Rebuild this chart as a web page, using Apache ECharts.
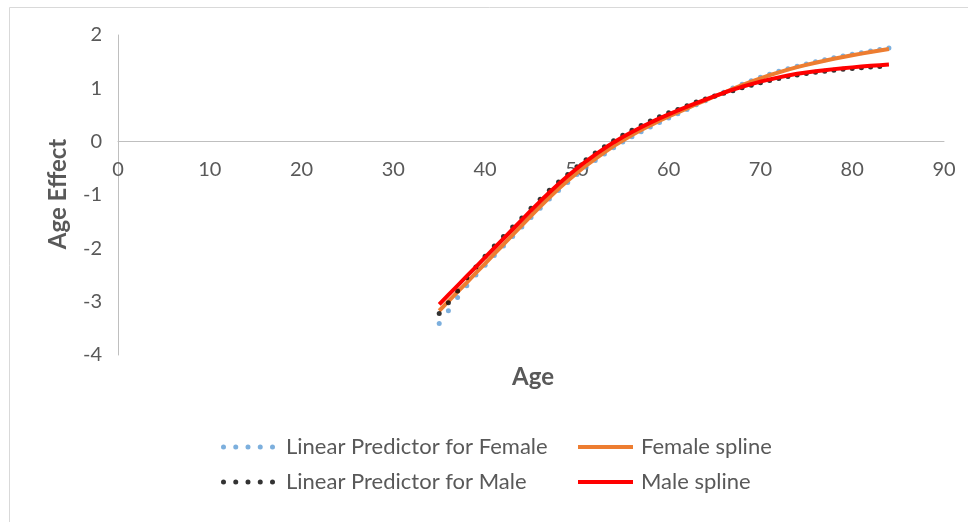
<!DOCTYPE html>
<html>
<head>
<meta charset="utf-8">
<script src="https://cdn.jsdelivr.net/npm/echarts@6/dist/echarts.min.js"></script>
<style>
html,body{margin:0;padding:0;background:#fff;}
#chart{width:968px;height:522px;}
</style>
</head>
<body>
<div id="chart"></div>
<script>
// ---- data ----
const splineAges = [35,36,37,38,39,40,41,42,43,44,45,46,47,48,49,50,51,52,53,54,55,56,57,58,59,60,61,62,63,64,65,66,67,68,69,70,71,72,73,74,75,76,77,78,79,80,81,82,83,84];
const femaleSpline = [-3.17,-2.994,-2.818,-2.642,-2.461,-2.285,-2.104,-1.928,-1.747,-1.571,-1.39,-1.218,-1.047,-0.884,-0.734,-0.587,-0.448,-0.322,-0.199,-0.084,0.023,0.123,0.217,0.306,0.391,0.472,0.550,0.625,0.702,0.775,0.847,0.917,0.990,1.060,1.126,1.188,1.246,1.300,1.350,1.397,1.440,1.480,1.518,1.554,1.588,1.620,1.651,1.681,1.710,1.738];
const maleSpline = [-3.05,-2.874,-2.698,-2.522,-2.346,-2.17,-1.994,-1.818,-1.642,-1.466,-1.29,-1.118,-0.952,-0.794,-0.644,-0.502,-0.368,-0.242,-0.124,-0.014,0.088,0.183,0.272,0.356,0.436,0.512,0.585,0.655,0.722,0.790,0.855,0.917,0.975,1.029,1.079,1.125,1.167,1.205,1.240,1.272,1.297,1.320,1.341,1.360,1.377,1.393,1.408,1.422,1.435,1.447];
const femaleLPAges = [35,36,37,38,39,40,41,42,43,44,45,46,47,48,49,50,51,52,53,54,55,56,57,58,59,60,61,62,63,64,65,66,67,68,69,70,71,72,73,74,75,76,77,78,79,80,81,82,83,84];
const femaleLP = [-3.41,-3.17,-2.92,-2.70,-2.50,-2.315,-2.134,-1.958,-1.777,-1.601,-1.42,-1.248,-1.077,-0.914,-0.764,-0.617,-0.478,-0.352,-0.229,-0.114,-0.007,0.093,0.187,0.276,0.361,0.442,0.525,0.605,0.692,0.765,0.847,0.925,1.005,1.077,1.144,1.206,1.264,1.318,1.368,1.415,1.458,1.498,1.536,1.572,1.606,1.638,1.669,1.699,1.728,1.756];
const maleLPAges = [35,36,37,38,39,40,41,42,43,44,45,46,47,48,49,50,51,52,53,54,55,56,57,58,59,60,61,62,63,64,65,66,67,68,69,70,71,72,73,74,75,76,77,78,79,80,81,82,83];
const maleLP = [-3.22,-3.02,-2.80,-2.55,-2.35,-2.15,-1.955,-1.78,-1.60,-1.43,-1.25,-1.08,-0.91,-0.755,-0.614,-0.472,-0.338,-0.212,-0.094,0.016,0.118,0.213,0.302,0.386,0.466,0.542,0.605,0.675,0.742,0.800,0.855,0.907,0.955,1.009,1.059,1.105,1.147,1.185,1.220,1.252,1.277,1.300,1.321,1.340,1.357,1.373,1.388,1.402,1.41];
const seriesNames = ['Linear Predictor for Female','Female spline','Linear Predictor for Male','Male spline'];
const xTitle = 'Age';
const yTitle = 'Age Effect';

function pairs(xs, ys){ return xs.map((x,i)=>[x, ys[i]]); }

const FONT = 'Lato';
const LABEL = '#595959';
const AXIS = '#BFBFBF';
const dotsIcon = 'path://M0,2.5a2.5,2.5 0 1,0 5,0a2.5,2.5 0 1,0 -5,0M12.25,2.5a2.5,2.5 0 1,0 5,0a2.5,2.5 0 1,0 -5,0M24.5,2.5a2.5,2.5 0 1,0 5,0a2.5,2.5 0 1,0 -5,0M36.75,2.5a2.5,2.5 0 1,0 5,0a2.5,2.5 0 1,0 -5,0M49,2.5a2.5,2.5 0 1,0 5,0a2.5,2.5 0 1,0 -5,0';

const legendText = {fontFamily: FONT, fontSize: 22, color: LABEL};
function mkLegend(name, left, top, icon, w, h, pad){
  return {
    data: [{name: name, icon: icon}],
    left: left, top: top, padding: 0,
    itemWidth: w, itemHeight: h,
    selectedMode: false,
    textStyle: Object.assign({padding: [0,0,0,pad]}, legendText)
  };
}

const chart = echarts.init(document.getElementById('chart'), null, {renderer: 'canvas'});
chart.setOption({
  animation: false,
  backgroundColor: '#ffffff',
  grid: {left: 118, right: 24, top: 35, bottom: 167, containLabel: false},
  xAxis: {
    type: 'value', min: 0, max: 90, interval: 10,
    position: 'bottom', offset: -213.33,
    axisLine: {show: true, onZero: false, lineStyle: {color: AXIS, width: 1}},
    axisTick: {show: false},
    splitLine: {show: false},
    axisLabel: {color: LABEL, fontFamily: FONT, fontSize: 20, margin: 18}
  },
  yAxis: {
    type: 'value', min: -4, max: 2, interval: 1,
    axisLine: {show: true, lineStyle: {color: AXIS, width: 1}},
    axisTick: {show: false},
    splitLine: {show: false},
    axisLabel: {color: LABEL, fontFamily: FONT, fontSize: 20, margin: 16}
  },
  legend: [
    mkLegend(seriesNames[0], 221, 436, dotsIcon, 54, 5, 6),
    mkLegend(seriesNames[1], 578, 436, 'rect', 55, 4, 3),
    mkLegend(seriesNames[2], 221, 471, dotsIcon, 54, 5, 6),
    mkLegend(seriesNames[3], 578, 471, 'rect', 55, 4, 3)
  ],
  graphic: [
    {type: 'rect', left: 7, top: 5, silent: true,
     shape: {x: 0, y: 0, width: 1200, height: 1200},
     style: {fill: 'none', stroke: '#D9D9D9', lineWidth: 1}},
    {type: 'text', x: 533, y: 377, silent: true,
     style: {text: xTitle, fontFamily: FONT, fontWeight: 'bold', fontSize: 24, fill: LABEL, align: 'center', verticalAlign: 'middle'}},
    {type: 'text', x: 58, y: 194, rotation: Math.PI/2, silent: true,
     style: {text: yTitle, fontFamily: FONT, fontWeight: 'bold', fontSize: 24, fill: LABEL, align: 'center', verticalAlign: 'middle'}}
  ],
  series: [
    {name: seriesNames[0], type: 'scatter', data: pairs(femaleLPAges, femaleLP),
     symbol: 'circle', symbolSize: 5, itemStyle: {color: '#5B9BD5'}, z: 2},
    {name: seriesNames[1], type: 'line', data: pairs(splineAges, femaleSpline),
     showSymbol: false, symbol: 'none', lineStyle: {color: '#ED7D31', width: 4}, itemStyle: {color: '#ED7D31'}, z: 3},
    {name: seriesNames[2], type: 'scatter', data: pairs(maleLPAges, maleLP),
     symbol: 'circle', symbolSize: 5, itemStyle: {color: '#000000'}, z: 4},
    {name: seriesNames[3], type: 'line', data: pairs(splineAges, maleSpline),
     showSymbol: false, symbol: 'none', lineStyle: {color: '#FF0000', width: 4}, itemStyle: {color: '#FF0000'}, z: 5}
  ]
});
</script>
</body>
</html>
